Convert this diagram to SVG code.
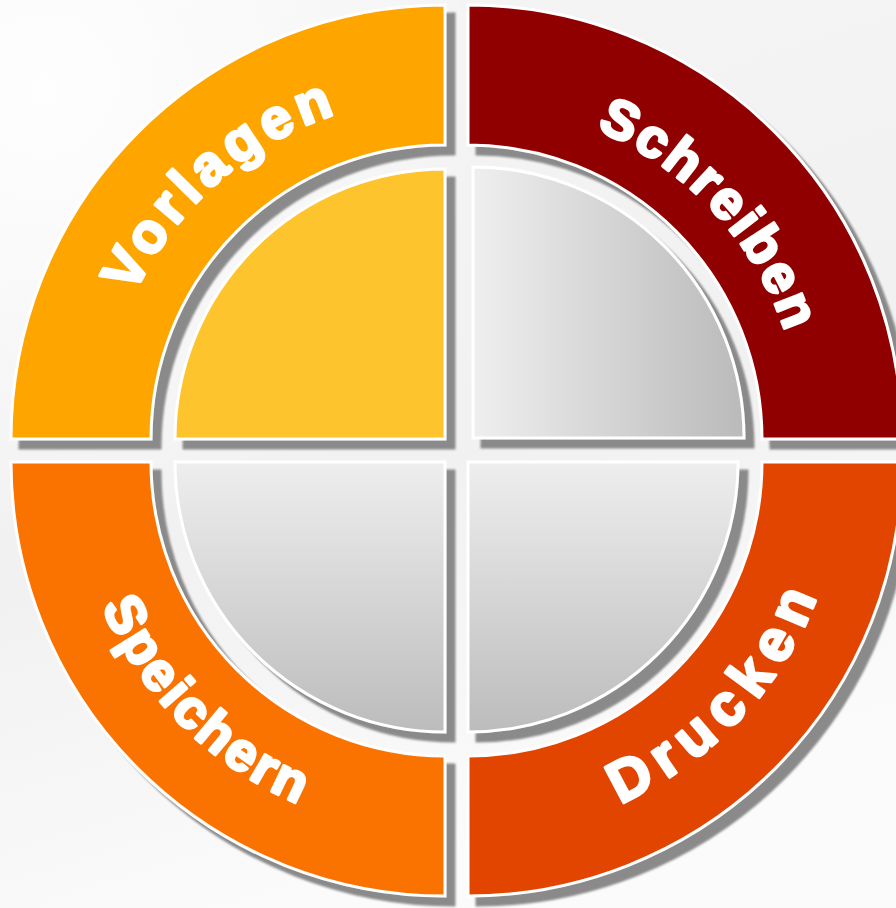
<svg xmlns="http://www.w3.org/2000/svg" width="896" height="908" viewBox="0 0 896 908">
<defs>
<linearGradient id="bg" x1="0" y1="0" x2="0.3" y2="1">
<stop offset="0" stop-color="#f5f5f5"/>
<stop offset="0.6" stop-color="#f1f1f1"/>
<stop offset="1" stop-color="#fbfbfb"/>
</linearGradient>
<radialGradient id="bgw" cx="0.05" cy="0.1" r="0.5">
<stop offset="0" stop-color="#ffffff" stop-opacity="0.9"/>
<stop offset="1" stop-color="#ffffff" stop-opacity="0"/>
</radialGradient>
<linearGradient id="gh" x1="0" y1="0" x2="1" y2="0">
<stop offset="0" stop-color="#efefef"/>
<stop offset="1" stop-color="#bababa"/>
</linearGradient>
<linearGradient id="gv" x1="0" y1="0" x2="0" y2="1">
<stop offset="0" stop-color="#eeeeee"/>
<stop offset="1" stop-color="#bcbcbc"/>
</linearGradient>
<filter id="sh" x="-5%" y="-5%" width="115%" height="115%">
<feOffset in="SourceAlpha" dx="9" dy="9" result="o"/>
<feGaussianBlur in="o" stdDeviation="1.2" result="b"/>
<feFlood flood-color="#8a8a8a"/>
<feComposite in2="b" operator="in" result="s"/>
<feMerge><feMergeNode in="s"/><feMergeNode in="SourceGraphic"/></feMerge>
</filter>
<path id="pV" d="M 102,439 A 343 343 0 0 1 445,96"/>
<path id="pS" d="M 468,104 A 335 335 0 0 1 803,439"/>
<path id="pP" d="M 73,462 A 372 372 0 0 0 445,834"/>
<path id="pD" d="M 468,836 A 374 374 0 0 0 842,462"/>
</defs>
<style>
.seg{stroke:#ffffff;stroke-width:3;stroke-linejoin:miter;filter:url(#sh)}
.lbl{font-family:"Liberation Sans",Arial,sans-serif;font-weight:bold;fill:#ffffff;stroke:#ffffff;stroke-width:3.2;stroke-linejoin:round;text-anchor:middle}
</style>
<rect width="896" height="908" fill="url(#bg)"/>
<rect width="896" height="908" fill="url(#bgw)"/>
<g id="vorlagen">
<path class="seg" fill="#fea500" d="M 11,439 A 434 434 0 0 1 445,5 L 445,145 A 294 294 0 0 0 151,439 Z"/>
<path class="seg" fill="#fec42f" d="M 445,439 L 175,439 A 270 270 0 0 1 445,169 Z"/>
<text class="lbl" font-size="56" letter-spacing="6"><textPath href="#pV" startOffset="54%">Vorlagen</textPath></text>
</g>
<g id="schreiben">
<path class="seg" fill="#910000" d="M 468,5 A 434 434 0 0 1 902,439 L 762,439 A 294 294 0 0 0 468,145 Z"/>
<path class="seg" fill="url(#gh)" d="M 473,438 L 473,167 A 271 271 0 0 1 744,438 Z"/>
<text class="lbl" font-size="54" letter-spacing="3"><textPath href="#pS" startOffset="52.4%">Schreiben</textPath></text>
</g>
<g id="speichern">
<path class="seg" fill="#fa7305" d="M 11,462 L 151,462 A 294 294 0 0 0 445,756 L 445,896 A 434 434 0 0 1 11,462 Z"/>
<path class="seg" fill="url(#gv)" d="M 445,462 L 175,462 A 270 270 0 0 0 445,732 Z"/>
<text class="lbl" font-size="54" letter-spacing="3"><textPath href="#pP" startOffset="50%">Speichern</textPath></text>
</g>
<g id="drucken">
<path class="seg" fill="#e24505" d="M 468,896 A 434 434 0 0 0 902,462 L 762,462 A 294 294 0 0 1 468,756 Z"/>
<path class="seg" fill="url(#gv)" d="M 468,462 L 738,462 A 270 270 0 0 1 468,732 Z"/>
<text class="lbl" font-size="58" letter-spacing="10"><textPath href="#pD" startOffset="52.4%">Drucken</textPath></text>
</g>
</svg>
